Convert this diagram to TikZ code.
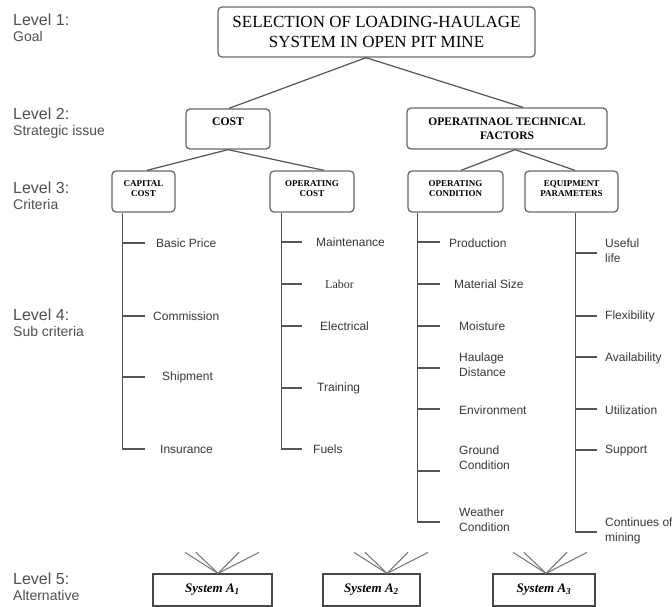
\documentclass[tikz,border=0pt]{standalone}
\usepackage{fontspec}
\setmainfont{Liberation Serif}
\newfontfamily\arialf{Liberation Sans}
\definecolor{boxgray}{RGB}{105,105,105}
\definecolor{linegray}{RGB}{85,85,85}
\definecolor{lvlgray}{RGB}{80,80,80}
\definecolor{subgray}{RGB}{55,55,55}
\begin{document}
\begin{tikzpicture}[x=1pt,y=-1pt,
  rbox/.style={draw=boxgray, line width=1.3pt, rounded corners=4pt, inner sep=0pt, align=center},
  l3box/.style={rbox, minimum height=41pt},
  l3txt/.style={align=center, inner sep=0pt, font=\fontsize{9}{10.5}\selectfont\bfseries, yshift=3pt},
  sbox/.style={draw=black!72, line width=1.2pt, inner sep=0pt, minimum height=32pt, font=\fontsize{13}{15}\selectfont\bfseries\itshape},
  conn/.style={draw=linegray, line width=1.2pt},
  lvl/.style={anchor=west, align=left, text=lvlgray, font=\arialf\fontsize{16}{16}\selectfont, inner sep=0pt},
  sub/.style={anchor=west, align=left, text=subgray, font=\arialf\fontsize{12}{15}\selectfont, inner sep=0pt},
]
\useasboundingbox[fill=white] (0,0) rectangle (672,607);

% level labels
\node[lvl] (lv1) at (13,28) {Level 1:\\{\fontsize{14}{16}\selectfont Goal}};
\node[lvl] (lv2) at (13,123.5) {Level 2:\\{\fontsize{14}{16}\selectfont Strategic issue}};
\node[lvl] (lv3) at (13,195.5) {Level 3:\\{\fontsize{14}{16}\selectfont Criteria}};
\node[lvl] (lv4) at (13,322.5) {Level 4:\\{\fontsize{14}{16}\selectfont Sub criteria}};
\node[lvl] (lv5) at (13,586.5) {Level 5:\\{\fontsize{14}{16}\selectfont Alternative}};

% level 1
\node[rbox, minimum width=317pt, minimum height=50pt, font=\fontsize{17}{20}\selectfont] (goal) at (376.5,32)
  {SELECTION OF LOADING-HAULAGE\\SYSTEM IN OPEN PIT MINE};

% level 2
\node[rbox, minimum width=84pt, minimum height=40pt, font=\fontsize{11.7}{14}\selectfont\bfseries] (cost) at (228,129)
  {COST\\\phantom{C}};
\node[rbox, minimum width=200pt, minimum height=41pt, font=\fontsize{11.5}{14}\selectfont\bfseries] (oper) at (507,128.5)
  {OPERATINAOL TECHNICAL\\FACTORS};

% level 3
\node[l3box, minimum width=63pt, label={[l3txt]center:{CAPITAL\\COST}}] (cap) at (143.5,191.5) {};
\node[l3box, minimum width=84pt, label={[l3txt]center:{OPERATING\\COST}}] (opc) at (312,191.5) {};
\node[l3box, minimum width=95pt, label={[l3txt]center:{OPERATING\\CONDITION}}] (ocond) at (455.5,191.5) {};
\node[l3box, minimum width=93pt, label={[l3txt]center:{EQUIPMENT\\PARAMETERS}}] (equip) at (571.5,191.5) {};

% connectors between levels
\draw[conn] ([xshift=-10.5pt]goal.south) -- ([xshift=1pt]cost.north);
\draw[conn] ([xshift=-10.5pt]goal.south) -- ([xshift=16pt]oper.north);
\draw[conn] (cost.south) -- ([xshift=3.5pt]cap.north);
\draw[conn] (cost.south) -- ([xshift=12pt]opc.north);
\draw[conn] ([xshift=8pt]oper.south) -- ([xshift=5.5pt]ocond.north);
\draw[conn] ([xshift=8pt]oper.south) -- ([xshift=3.5pt]equip.north);

% sub-criteria: capital cost
\node[sub] (bp) at (156,243) {Basic Price};
\node[sub] (com) at (153,316) {Commission};
\node[sub] (shp) at (162,377) {Shipment};
\node[sub] (ins) at (160,449) {Insurance};
\draw[conn] ([xshift=11pt]cap.south west) |- (145,449);
\foreach \ty in {243,316,377} \draw[conn] (123,\ty) -- (145,\ty);

% sub-criteria: operating cost
\node[sub] (mnt) at (316,242) {Maintenance};
\node[sub, font=\fontsize{12}{15}\selectfont] (lab) at (325,284) {Labor};
\node[sub] (ele) at (320,326) {Electrical};
\node[sub] (trn) at (317,388) {Training};
\node[sub] (fue) at (313,449) {Fuels};
\draw[conn] ([xshift=12pt]opc.south west) |- (302,449);
\foreach \ty in {242,284,326,388} \draw[conn] (282,\ty) -- (302,\ty);

% sub-criteria: operating condition
\node[sub] (pro) at (449,243) {Production};
\node[sub] (mat) at (454,284) {Material Size};
\node[sub] (moi) at (459,326) {Moisture};
\node[sub] (hau) at (459,365) {Haulage\\Distance};
\node[sub] (env) at (459,410) {Environment};
\node[sub] (gro) at (459,457.5) {Ground\\Condition};
\node[sub] (wea) at (459,519.5) {Weather\\Condition};
\draw[conn] ([xshift=10pt]ocond.south west) |- (440,522);
\foreach \ty in {242,284,326,368,409,471} \draw[conn] (418,\ty) -- (440,\ty);

% sub-criteria: equipment parameters
\node[sub] (use) at (605,250.5) {Useful\\life};
\node[sub] (fle) at (605,316) {Flexibility};
\node[sub] (ava) at (605,358) {Availability};
\node[sub] (uti) at (605,410) {Utilization};
\node[sub] (sup) at (605,451) {Support};
\node[sub] (con) at (605,530.5) {Continues of\\mining};
\draw[conn] ([xshift=51pt]equip.south west) |- (597,532);
\foreach \ty in {253,316,357,409,450} \draw[conn] (576,\ty) -- (597,\ty);

% level 5 alternatives
\node[sbox, minimum width=119pt] (s1) at (212.5,590) {System A\textsubscript{1}};
\node[sbox, minimum width=97pt] (s2) at (371.5,590) {System A\textsubscript{2}};
\node[sbox, minimum width=102pt] (s3) at (544,590) {System A\textsubscript{3}};
\foreach \n/\dx in {s1/5.5, s2/15.5, s3/2} {
  \foreach \fx in {-33,-22,21,41}
    \draw[conn, draw=black!55, line width=1pt] ([xshift=\dx pt]\n.north) -- ++(\fx,-21);
}
\end{tikzpicture}
\end{document}
